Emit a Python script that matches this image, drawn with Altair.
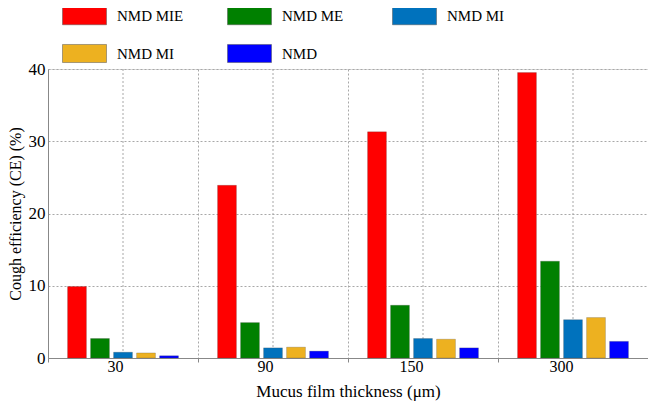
import altair as alt
import pandas as pd

thickness = ["30", "90", "150", "300"]
series = ["NMD MIE", "NMD ME", "NMD MI", "NMD MI ", "NMD"]
colors = ["#FF0000", "#008000", "#0072BD", "#EDB120", "#0000FF"]

v_mie = [9.9, 23.9, 31.3, 39.5]
v_me = [2.7, 4.9, 7.3, 13.4]
v_mi_a = [0.8, 1.4, 2.7, 5.3]
v_mi_b = [0.7, 1.5, 2.6, 5.6]
v_nmd = [0.3, 0.95, 1.4, 2.3]

vals = [v_mie, v_me, v_mi_a, v_mi_b, v_nmd]
rows = []
for s, vs in zip(series, vals):
    for t, v in zip(thickness, vs):
        rows.append({"thickness": t, "series": s, "value": v})
df = pd.DataFrame(rows)
centers = pd.DataFrame({"thickness": thickness})

FONT = "Liberation Serif"

xscale = alt.Scale(domain=thickness, paddingInner=0, paddingOuter=0)

rules = alt.Chart(centers).mark_rule(color="#A8A8A8", strokeDash=[2, 2], strokeWidth=1).encode(
    x=alt.X("thickness:N", scale=xscale, sort=thickness)
)

bars = alt.Chart(df).mark_bar(stroke="#444444", strokeWidth=0.4, strokeOpacity=0.6).encode(
    x=alt.X(
        "thickness:N",
        scale=xscale,
        sort=thickness,
        title="Mucus film thickness (\u03bcm)",
        axis=alt.Axis(
            labelAngle=0,
            tickBand="extent",
            grid=True,
            gridDash=[2, 2],
            gridColor="#A8A8A8",
            gridOpacity=1,
            ticks=True,
            tickSize=4,
            tickColor="#888888",
            domainColor="#888888",
            labelFont=FONT,
            labelFontSize=16,
            labelColor="black",
            labelPadding=4,
            titleFont=FONT,
            titleFontSize=17,
            titleFontWeight="normal",
            titleColor="black",
            titlePadding=9,
        ),
    ),
    xOffset=alt.XOffset("series:N", sort=series, scale=alt.Scale(paddingInner=0.18, paddingOuter=0.85)),
    y=alt.Y(
        "value:Q",
        scale=alt.Scale(domain=[0, 40], nice=False),
        title="Cough efficiency (CE) (%)",
        axis=alt.Axis(
            values=[0, 10, 20, 30, 40],
            grid=True,
            gridDash=[2, 2],
            gridColor="#A8A8A8",
            gridOpacity=1,
            ticks=False,
            domainColor="#888888",
            labelFont=FONT,
            labelFontSize=17,
            labelColor="black",
            labelPadding=3,
            titleFont=FONT,
            titleFontSize=16,
            titleFontWeight="normal",
            titleColor="black",
            titlePadding=5,
        ),
    ),
    color=alt.Color(
        "series:N",
        sort=series,
        scale=alt.Scale(domain=series, range=colors),
        legend=alt.Legend(
            title=None,
            orient="none",
            direction="horizontal",
            legendX=14,
            legendY=-76,
            columns=3,
            gridAlign="all",
            columnPadding=42,
            rowPadding=5,
            padding=0,
            symbolType="M-1,-0.41H1V0.41H-1Z",
            symbolSize=1936,
            symbolStrokeWidth=0.5,
            symbolStrokeColor="#555555",
            labelFont=FONT,
            labelFontSize=15,
            labelColor="black",
            labelOffset=10,
            labelLimit=200,
        ),
    ),
)

chart = (
    alt.layer(rules, bars)
    .properties(
        width=600,
        height=289,
        autosize=alt.AutoSizeParams(type="none"),
        padding={"left": 40, "top": 61, "right": 0, "bottom": 44},
    )
    .configure_view(stroke="#999999", strokeWidth=1)
    .configure(background="white")
)

chart.save("out.html", embed_options={"renderer": "svg", "actions": False})
